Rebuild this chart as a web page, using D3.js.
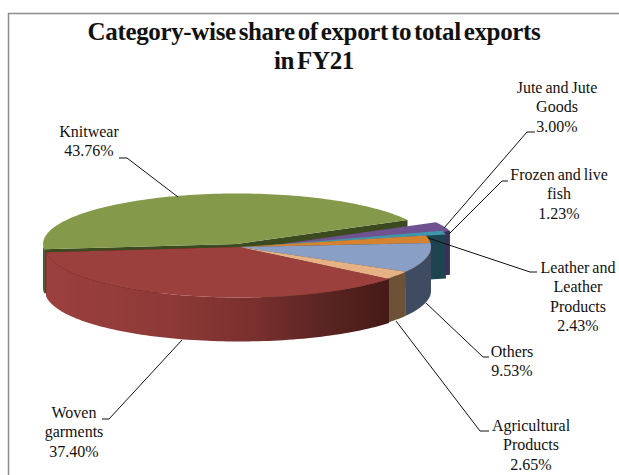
<!DOCTYPE html>
<html>
<head>
<meta charset="utf-8">
<script src="https://cdn.jsdelivr.net/npm/d3@7"></script>
<style>
  html, body { margin: 0; padding: 0; background: #fff; }
  text { font-family: "Liberation Serif", serif; fill: #111; }
</style>
</head>
<body>
<svg id="chart" width="619" height="475"></svg>
<script>
// Export shares, clockwise from the left-hand edge of the pie
const categories = ["Knitwear", "Jute and Jute Goods", "Frozen and live fish", "Leather and Leather Products", "Others", "Agricultural Products", "Woven garments"];
const shares = [43.76, 3.00, 1.23, 2.43, 9.53, 2.65, 37.40];
const shareLabels = ["43.76%", "3.00%", "1.23%", "2.43%", "9.53%", "2.65%", "37.40%"];
const labelLines = [["Knitwear"], ["Jute and Jute", "Goods"], ["Frozen and live", "fish"], ["Leather and", "Leather", "Products"], ["Others"], ["Agricultural", "Products"], ["Woven", "garments"]];
const titleLines = ["Category-wise share of export to total exports", "in FY21"];

const svg = d3.select("#chart");
const defs = svg.append("defs");

// Ellipse of the tilted pie and thickness of the extruded wall
const centre = { x: 239, y: 247 };
const rx = 192, ry = 50, depth = 44;
const rad = d => d * Math.PI / 180;

// Slice styling, with the outward offset of each exploded slice
const sliceStyle = [
  { top: "#84994a", wall: "#3c4a20", cut: "#3c4a20", dx: -2, dy: -3, r: 1.01, backCut: true },
  { top: "#6f5390", wall: "#3e2f55", cut: "#3e2f55", dx: 28, dy: -1, r: 1 },
  { top: "#3f97ad", wall: "#1d4450", cut: "#1d4450", dx: 20, dy: -1, r: 1 },
  { top: "#d6822f", wall: "#6d4217", cut: "#6d4217", dx: 0, dy: 0, r: 1 },
  { top: "#8a9fc6", wall: "#3f4b60", cut: "#3f4b60", dx: 0, dy: 0, r: 1 },
  { top: "#e7b283", wall: "#6e5238", cut: "#6e5238", dx: 0, dy: 0, r: 1 },
  { top: "#9c403d", wall: "url(#wovenWall)", cut: "#451a17", dx: 0, dy: 0, r: 1.01 }
];

// Shading of the long front wall of the woven-garments slice
const wovenGrad = defs.append("linearGradient").attr("id", "wovenWall")
  .attr("gradientUnits", "userSpaceOnUse")
  .attr("x1", centre.x - rx).attr("x2", 388).attr("y1", 0).attr("y2", 0);
[[0, "#9b403e"], [0.35, "#8e3a38"], [0.6, "#7a302e"], [0.8, "#5c2523"], [1, "#451a17"]]
  .forEach(([o, c]) => wovenGrad.append("stop").attr("offset", o).attr("stop-color", c));

const pie = d3.pie().sort(null).startAngle(rad(-96)).endAngle(rad(264));
const slices = pie(shares).map((d, i) => ({ ...d, i, style: sliceStyle[i] }));

// Projects a pie angle (clockwise from the back of the pie) onto the tilted ellipse
function project(slice, angle, drop = 0) {
  const s = slice.style;
  return [
    centre.x + s.dx + rx * s.r * Math.sin(angle),
    centre.y + s.dy - ry * s.r * Math.cos(angle) + drop
  ];
}
function arcPoints(slice, a0, a1, drop = 0) {
  const n = Math.max(2, Math.ceil(Math.abs(a1 - a0) / rad(1.5)));
  return d3.range(n + 1).map(k => project(slice, a0 + (a1 - a0) * k / n, drop));
}
const path = d3.line();
const apex = (slice, drop = 0) => [centre.x + slice.style.dx, centre.y + slice.style.dy + drop];

// Front-facing range of an arc: the part below the widest line of the ellipse
function frontRange(slice) {
  const lo = Math.max(slice.startAngle, rad(90));
  const hi = Math.min(slice.endAngle, rad(270));
  const lo2 = Math.max(slice.startAngle, rad(-270));
  const hi2 = Math.min(slice.endAngle, rad(-90));
  if (hi > lo) return [lo, hi];
  if (hi2 > lo2) return [lo2, hi2];
  return null;
}

// Extruded flat face running from the pie centre out to one edge angle
function cutFace(slice, angle) {
  return path([apex(slice), project(slice, angle), project(slice, angle, depth), apex(slice, depth)]) + "Z";
}

const pieLayer = svg.append("g");
slices.forEach(slice => {
  const s = slice.style;
  const g = pieLayer.append("g");

  g.append("path").attr("d", cutFace(slice, slice.endAngle)).attr("fill", s.cut);
  if (s.backCut) {
    g.append("path").attr("d", cutFace(slice, slice.startAngle)).attr("fill", s.cut);
  }

  // Curved outer wall
  const range = frontRange(slice);
  if (range) {
    const upper = arcPoints(slice, range[0], range[1]);
    const lower = arcPoints(slice, range[1], range[0], depth);
    g.append("path").attr("d", path(upper.concat(lower)) + "Z").attr("fill", s.wall);
  }

  // Top face
  g.append("path")
    .attr("d", path([apex(slice)].concat(arcPoints(slice, slice.startAngle, slice.endAngle))) + "Z")
    .attr("fill", s.top);
});

// Chart frame
svg.append("path")
  .attr("d", "M8.5,475V13.5H619")
  .attr("fill", "none").attr("stroke", "#8c8c8c").attr("stroke-width", 1.5);

// Title
svg.append("g").selectAll("text").data(titleLines).join("text")
  .attr("x", 314).attr("y", (d, i) => 40 + i * 29)
  .attr("text-anchor", "middle").attr("font-size", 25).attr("font-weight", "bold")
  .attr("letter-spacing", -0.35).attr("word-spacing", -3).text(d => d);

// Data labels with their leader lines: label centre, first baseline and leader bend points
const labelLayout = [
  { x: 89, y: 137, elbow: [[119, 158], [127, 158]], tip: [178, 197] },
  { x: 557, y: 93, elbow: [[535, 132], [527, 132]], tip: [444, 228] },
  { x: 559, y: 180, elbow: [[508, 181], [502, 181]], tip: [449, 234] },
  { x: 578, y: 273, elbow: [[537, 272], [530, 272]], tip: [428, 238] },
  { x: 512, y: 357, elbow: [[489, 357], [483, 357]], tip: [426, 303] },
  { x: 531, y: 431, elbow: [[489, 431], [480, 431]], tip: [396, 321] },
  { x: 74, y: 418, elbow: [[102, 419], [109, 419]], tip: [182, 340] }
];

const lineGap = 19.3;
const labels = svg.append("g");
slices.forEach((slice, i) => {
  const lay = labelLayout[i];
  labels.append("path")
    .attr("d", path([lay.elbow[0], lay.elbow[1], lay.tip]))
    .attr("fill", "none").attr("stroke", "#111").attr("stroke-width", 1);
  const lines = labelLines[i].concat(shareLabels[i]);
  labels.append("g").selectAll("text").data(lines).join("text")
    .attr("x", lay.x).attr("y", (d, k) => lay.y + k * lineGap)
    .attr("text-anchor", "middle").attr("font-size", 16).attr("word-spacing", -1)
    .text(d => d);
});
</script>
</body>
</html>
